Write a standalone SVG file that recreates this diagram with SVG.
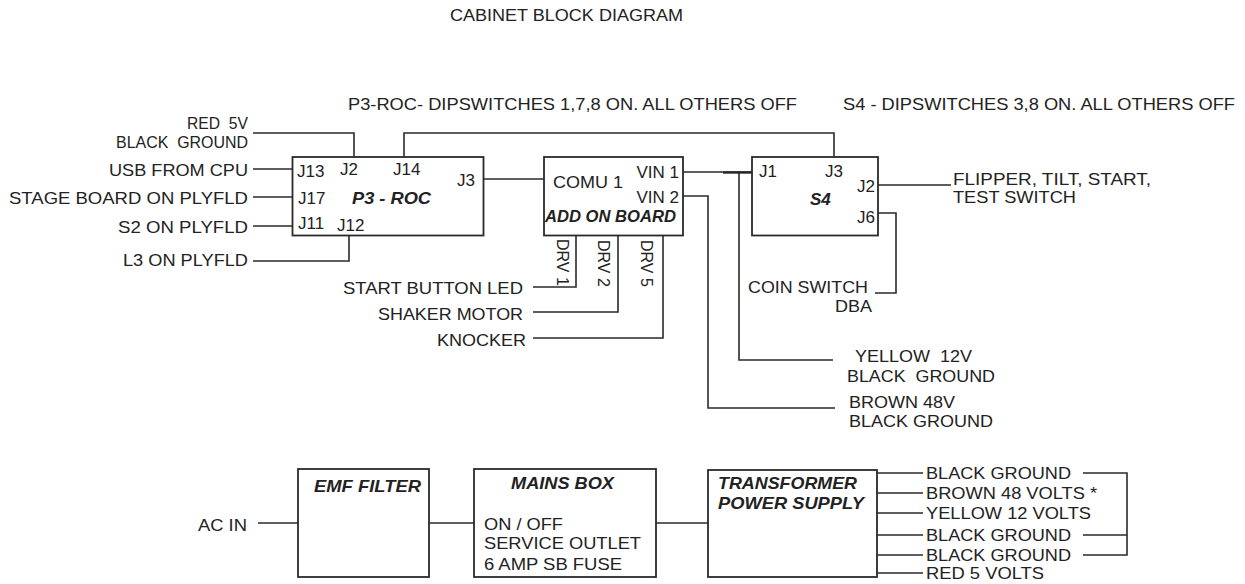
<svg xmlns="http://www.w3.org/2000/svg" width="1245" height="584" viewBox="0 0 1245 584">
<style>
.t{font-family:"Liberation Sans",Arial,Helvetica,sans-serif;font-size:17px;fill:#222}
.s{font-size:16px}
.b{font-weight:bold;font-style:italic}
.p{white-space:pre}
.box{fill:#fff;stroke:#2a2a2a;stroke-width:1.8}
.w{fill:none;stroke:#2a2a2a;stroke-width:1.6}
</style>
<rect width="1245" height="584" fill="#fff"/>
<g id="connectors">
<path class="w" d="M253,133H354V157"/>
<path class="w" d="M404,157V133H834V157"/>
<path class="w" d="M253,169H292.5"/>
<path class="w" d="M253,197H292.5"/>
<path class="w" d="M253,226H292.5"/>
<path class="w" d="M253,261H349V235.5"/>
<path class="w" d="M483.5,179H544"/>
<path class="w" d="M683,172H752"/>
<path class="w" d="M723,172.5H752" style="stroke-width:2.4"/>
<path class="w" d="M739,172V360H833"/>
<path class="w" d="M683,196H708V408H835"/>
<path class="w" d="M576,235.5V287H533"/>
<path class="w" d="M618,235.5V312H533"/>
<path class="w" d="M663,235.5V338H533"/>
<path class="w" d="M878,185H951"/>
<path class="w" d="M878,213H896V293H875"/>
<path class="w" d="M258,523H298"/>
<path class="w" d="M429,523H474"/>
<path class="w" d="M656,523H708"/>
<path class="w" d="M877,473H923M877,493H923M877,513H923M877,535H923M877,555H923M877,573H923"/>
<path class="w" d="M1083,473H1127V555H1083M1083,535H1127"/>
</g>
<g id="title"><text class="t" x="450" y="21" textLength="233" lengthAdjust="spacingAndGlyphs">CABINET BLOCK DIAGRAM</text></g>
<g id="note-p3roc"><text class="t" x="348" y="110" textLength="449" lengthAdjust="spacingAndGlyphs">P3-ROC- DIPSWITCHES 1,7,8 ON. ALL OTHERS OFF</text></g>
<g id="note-s4"><text class="t" x="843" y="110" textLength="392" lengthAdjust="spacingAndGlyphs">S4 - DIPSWITCHES 3,8 ON. ALL OTHERS OFF</text></g>
<g id="in-power">
<text class="t s p" x="248" y="129" text-anchor="end" textLength="61" lengthAdjust="spacingAndGlyphs">RED  5V</text>
<text class="t s p" x="248" y="148" text-anchor="end" textLength="132" lengthAdjust="spacingAndGlyphs">BLACK  GROUND</text>
</g>
<g id="in-usb"><text class="t" x="248" y="176" text-anchor="end" textLength="139" lengthAdjust="spacingAndGlyphs">USB FROM CPU</text></g>
<g id="in-stage"><text class="t" x="248" y="204" text-anchor="end" textLength="239" lengthAdjust="spacingAndGlyphs">STAGE BOARD ON PLYFLD</text></g>
<g id="in-s2"><text class="t" x="248" y="233" text-anchor="end" textLength="130" lengthAdjust="spacingAndGlyphs">S2 ON PLYFLD</text></g>
<g id="in-l3"><text class="t" x="248" y="266" text-anchor="end" textLength="125" lengthAdjust="spacingAndGlyphs">L3 ON PLYFLD</text></g>
<g id="p3roc">
<rect class="box" x="292.5" y="157" width="191" height="78.5"/>
<text class="t" x="297" y="177">J13</text>
<text class="t" x="340" y="175">J2</text>
<text class="t" x="393" y="175">J14</text>
<text class="t" x="457" y="186">J3</text>
<text class="t" x="298" y="204">J17</text>
<text class="t b" x="352" y="204" textLength="79" lengthAdjust="spacingAndGlyphs">P3 - ROC</text>
<text class="t" x="298" y="229">J11</text>
<text class="t" x="337" y="231">J12</text>
</g>
<g id="addon">
<rect class="box" x="544" y="157" width="139" height="78.5"/>
<text class="t" x="553" y="188" textLength="70" lengthAdjust="spacingAndGlyphs">COMU 1</text>
<text class="t" x="679" y="178" text-anchor="end">VIN 1</text>
<text class="t" x="679" y="203" text-anchor="end">VIN 2</text>
<text class="t b" x="545" y="222" textLength="131" lengthAdjust="spacingAndGlyphs">ADD ON BOARD</text>
<text class="t s" transform="translate(557,239) rotate(90)">DRV 1</text>
<text class="t s" transform="translate(598,240) rotate(90)">DRV 2</text>
<text class="t s" transform="translate(641,240) rotate(90)">DRV 5</text>
</g>
<g id="s4">
<rect class="box" x="752" y="157" width="126" height="78.5"/>
<text class="t" x="759" y="177">J1</text>
<text class="t" x="825" y="177">J3</text>
<text class="t" x="875" y="192" text-anchor="end">J2</text>
<text class="t b" x="810" y="205">S4</text>
<text class="t" x="875" y="223" text-anchor="end">J6</text>
</g>
<g id="out-switches">
<text class="t" x="953" y="185" textLength="198" lengthAdjust="spacingAndGlyphs">FLIPPER, TILT, START,</text>
<text class="t" x="953" y="203" textLength="123" lengthAdjust="spacingAndGlyphs">TEST SWITCH</text>
</g>
<g id="out-coin">
<text class="t" x="748" y="293" textLength="120" lengthAdjust="spacingAndGlyphs">COIN SWITCH</text>
<text class="t" x="835" y="312" textLength="37" lengthAdjust="spacingAndGlyphs">DBA</text>
</g>
<g id="out-led"><text class="t" x="523" y="294" text-anchor="end" textLength="180" lengthAdjust="spacingAndGlyphs">START BUTTON LED</text></g>
<g id="out-shaker"><text class="t" x="523" y="320" text-anchor="end" textLength="145" lengthAdjust="spacingAndGlyphs">SHAKER MOTOR</text></g>
<g id="out-knocker"><text class="t" x="526" y="346" text-anchor="end" textLength="89" lengthAdjust="spacingAndGlyphs">KNOCKER</text></g>
<g id="in-12v">
<text class="t p" x="855" y="362" textLength="117" lengthAdjust="spacingAndGlyphs">YELLOW  12V</text>
<text class="t p" x="847" y="382" textLength="148" lengthAdjust="spacingAndGlyphs">BLACK  GROUND</text>
</g>
<g id="in-48v">
<text class="t" x="849" y="408" textLength="106" lengthAdjust="spacingAndGlyphs">BROWN 48V</text>
<text class="t" x="849" y="427" textLength="144" lengthAdjust="spacingAndGlyphs">BLACK GROUND</text>
</g>
<g id="ac-in"><text class="t" x="198" y="531" textLength="49" lengthAdjust="spacingAndGlyphs">AC IN</text></g>
<g id="emf">
<rect class="box" x="298" y="469" width="131" height="108"/>
<text class="t b" x="314" y="492" textLength="107" lengthAdjust="spacingAndGlyphs">EMF FILTER</text>
</g>
<g id="mains">
<rect class="box" x="474" y="469" width="182" height="108"/>
<text class="t b" x="511" y="489" textLength="103" lengthAdjust="spacingAndGlyphs">MAINS BOX</text>
<text class="t" x="484" y="530" textLength="79" lengthAdjust="spacingAndGlyphs">ON / OFF</text>
<text class="t" x="484" y="549" textLength="157" lengthAdjust="spacingAndGlyphs">SERVICE OUTLET</text>
<text class="t" x="484" y="570" textLength="138" lengthAdjust="spacingAndGlyphs">6 AMP SB FUSE</text>
</g>
<g id="transformer">
<rect class="box" x="708" y="470" width="169" height="107"/>
<text class="t b" x="718" y="489" textLength="139" lengthAdjust="spacingAndGlyphs">TRANSFORMER</text>
<text class="t b" x="718" y="509" textLength="146" lengthAdjust="spacingAndGlyphs">POWER SUPPLY</text>
</g>
<g id="supply-outputs">
<text class="t" x="926" y="479" textLength="145" lengthAdjust="spacingAndGlyphs">BLACK GROUND</text>
<text class="t" x="926" y="499" textLength="171" lengthAdjust="spacingAndGlyphs">BROWN 48 VOLTS *</text>
<text class="t" x="926" y="519" textLength="165" lengthAdjust="spacingAndGlyphs">YELLOW 12 VOLTS</text>
<text class="t" x="926" y="541" textLength="145" lengthAdjust="spacingAndGlyphs">BLACK GROUND</text>
<text class="t" x="926" y="561" textLength="145" lengthAdjust="spacingAndGlyphs">BLACK GROUND</text>
<text class="t" x="926" y="579" textLength="118" lengthAdjust="spacingAndGlyphs">RED 5 VOLTS</text>
</g>
</svg>
